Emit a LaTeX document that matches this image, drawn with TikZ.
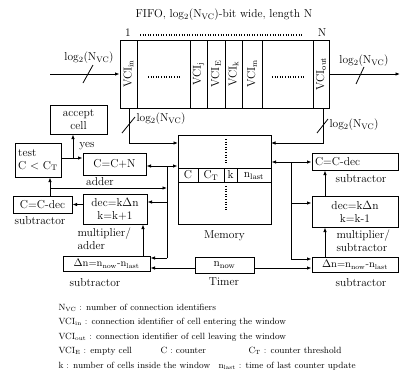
\documentclass[tikz,border=0pt]{standalone}
\usepackage{tikz}
\usetikzlibrary{arrows.meta,positioning}

\newcommand{\lognvc}{log$_2$(N$_{\mathrm{VC}}$)}
\newcommand{\vci}[1]{VCI$_{\mathrm{#1}}$}
\newcommand{\ct}{C$_{\mathrm{T}}$}

\begin{document}
\begin{tikzpicture}[
  x=1pt, y=-1pt,
  line width=1pt,
  font=\fontsize{11.5}{13}\selectfont,
  blk/.style={draw, line width=1pt, inner sep=0pt, align=center},
  lbl/.style={inner sep=0pt, align=left},
  dnbox/.style={blk, font=\fontsize{10.5}{11}\selectfont},
  arrow/.style={-{Latex[length=4.5pt,width=3.5pt]}},
  slash/.style={line width=0.8pt},
  dots/.style={line width=1.1pt, dash pattern=on 1pt off 1.6pt},
  legend/.style={anchor=base west, inner sep=0pt, font=\fontsize{9}{10}\selectfont}
]
\useasboundingbox (0,0) rectangle (401,375);

% FIFO
\node (title) at (224,15) {FIFO, \lognvc-bit wide, length N};
\node[inner sep=0pt] (first) at (128,33) {1};
\node[inner sep=0pt] (last) at (322,33) {N};
\draw[dots] (140,35) -- (302,35);
\node[blk, minimum width=209pt, minimum height=68pt] (fifo) at (224.5,74) {};
\foreach \cx in {137,190,207,225,242,262,313}
  \draw (\cx,40) -- (\cx,108);
\foreach \cx/\sb in {128.5/in,198.5/j,216/E,233.5/k,252/m,321/out}
  \node[rotate=90, inner sep=0pt] (vci\sb) at (\cx,74) {\vci{\sb}};
\draw[dots] (148,77) -- (180,77);
\draw[dots] (272,77) -- (304,77);

\coordinate (fin) at (50,74);
\coordinate (fout) at (400,74);
\draw[arrow] (fin) -- (fifo.west);
\draw[arrow] (fifo.east) -- (fout);
\draw[slash] (83,83) -- (93,65);
\node (inlbl) at (89,58) {\lognvc};
\draw[slash] (356,84) -- (364,67);
\node (outlbl) at (364,61) {\lognvc};

% Memory
\node[blk, minimum width=93pt, minimum height=89pt] (mem) at (224.5,179.5) {};
\draw (178,168) -- (271,168);
\draw (178,182) -- (271,182);
\foreach \cx in {198,224,237}
  \draw (\cx,168) -- (\cx,182);
\node[inner sep=0pt] (fc) at (188,175) {C};
\node[inner sep=0pt] (fct) at (211,175.5) {\ct};
\node[inner sep=0pt] (fk) at (230.5,175) {k};
\node[inner sep=0pt] (fn) at (254,176) {n$_{\mathrm{last}}$};
\draw[dots] (226,139) -- (226,165);
\draw[dots] (226,186) -- (226,212);
\node[below=2pt of mem] (memlbl) {Memory};

% FIFO to memory
\coordinate (tapL) at (129,108);
\coordinate (memL) at (178,143);
\coordinate (tapR) at (323,108);
\coordinate (memR) at (271,143);
\draw[arrow] (tapL) |- (memL);
\draw[arrow] (tapR) |- (memR);
\draw[slash] (122,133) -- (135,117);
\node[anchor=west, inner sep=0pt] (tllbl) at (136,119) {\lognvc};
\draw[slash] (317,133) -- (328,119);
\node[anchor=west, inner sep=0pt] (trlbl) at (329,125) {\lognvc};

% left side
\node[blk, minimum width=57pt, minimum height=29pt] (accept) at (78.5,119.5) {accept\\cell};
\node[blk, minimum width=46pt, minimum height=34pt, align=left] (test) at (38,160) {test\\C $<$ \ct};
\node[blk, minimum width=63pt, minimum height=22pt] (add) at (114.5,164) {C=C+N};
\node[lbl] (addlbl) at (100,182) {adder};
\node[blk, minimum width=59pt, minimum height=17pt] (subL) at (42.5,204.5) {C=C-dec};
\node[lbl] (subLlbl) at (40,221) {subtractor};
\node[blk, minimum width=64pt, minimum height=30pt] (mulL) at (115,209) {dec=k$\Delta$n\\k=k+1};
\node[lbl, anchor=north west] (mulLlbl) at (77,227) {multiplier/\\adder};
\node[dnbox, minimum width=87pt, minimum height=15pt] (dnL) at (106.5,263.5) {$\Delta$n=n$_{\mathrm{now}}$-n$_{\mathrm{last}}$};
\node[lbl] (dnLlbl) at (95,283) {subtractor};

% timer
\node[blk, minimum width=59pt, minimum height=16pt] (timer) at (224.5,265) {n$_{\mathrm{now}}$};
\node[lbl] (timerlbl) at (224,282) {Timer};

% right side
\node[blk, minimum width=86pt, minimum height=17pt, text width=80pt, align=left] (subR) at (355,161.5) {C=C-dec};
\node[lbl] (subRlbl) at (361,179) {subtractor};
\node[blk, minimum width=86pt, minimum height=31pt] (mulR) at (355,211.5) {dec=k$\Delta$n\\k=k-1};
\node[lbl, anchor=north west] (mulRlbl) at (336,229) {multiplier/\\subtractor};
\node[dnbox, minimum width=86pt, minimum height=15pt] (dnR) at (355,264.5) {$\Delta$n=n$_{\mathrm{now}}$-n$_{\mathrm{last}}$};
\node[lbl] (dnRlbl) at (361,283) {subtractor};

% left connectors
\coordinate (jY) at (73,158);
\coordinate (jL) at (50,188);
\draw[arrow] (test.east |- jY) -- (add.west |- jY);
\draw[arrow] (jY) -- (accept.south -| jY);
\node[lbl] (yes) at (87,146) {yes};
\draw[arrow] (subL.north -| jL) -- (test.south -| jL);
\draw[arrow] (mulL.west |- subL.east) -- (subL.east);
\coordinate (upL) at (143,240);
\draw[arrow] (dnL.north -| upL) -- (mulL.south -| upL);

% left bus
\coordinate (bL1) at (167,166);
\coordinate (bL2) at (167,188);
\coordinate (bL3) at (167,202);
\coordinate (bL4) at (167,258);
\draw (bL1) -- (bL4);
\draw[arrow] (bL1) -- (bL1 -| mem.west);
\draw[arrow] (bL1) -- (bL1 -| add.east);
\draw[arrow] (jL) -- (bL2);
\draw[arrow] (bL3) -- (bL3 -| mulL.east);
\draw[arrow] (bL4) -- (bL4 -| dnL.east);

% timer outputs
\coordinate (tm) at (224.5,268);
\draw[arrow] (timer.west |- tm) -- (dnL.east |- tm);
\draw[arrow] (timer.east |- tm) -- (dnR.west |- tm);

% right bus
\coordinate (bR1) at (291,162);
\coordinate (bR2) at (291,203);
\coordinate (bR3) at (291,259);
\draw (bR1) -- (bR3);
\draw[arrow] (bR1) -- (bR1 -| mem.east);
\draw[arrow] (bR1) -- (bR1 -| subR.west);
\draw[arrow] (bR2) -- (bR2 -| mulR.west);
\draw[arrow] (bR3) -- (bR3 -| dnR.west);
\coordinate (upR) at (325,240);
\draw[arrow] (mulR.north -| upR) -- (subR.south -| upR);
\draw[arrow] (dnR.north -| upR) -- (mulR.south -| upR);

% legend
\node[legend] (lg1) at (58,310) {N$_{\mathrm{VC}}$ : number of connection identifiers};
\node[legend] (lg2) at (58,324.5) {\vci{in} : connection identifier of cell entering the window};
\node[legend] (lg3) at (58,339) {\vci{out} : connection identifier of cell leaving the window};
\node[legend] (lg4) at (58,353.5) {\vci{E} : empty cell};
\node[legend] (lg5) at (160,353.5) {C : counter};
\node[legend] (lg6) at (248,353.5) {\ct{} : counter threshold};
\node[legend] (lg7) at (58,368) {k : number of cells inside the window};
\node[legend] (lg8) at (218,368) {n$_{\mathrm{last}}$ : time of last counter update};
\end{tikzpicture}
\end{document}
